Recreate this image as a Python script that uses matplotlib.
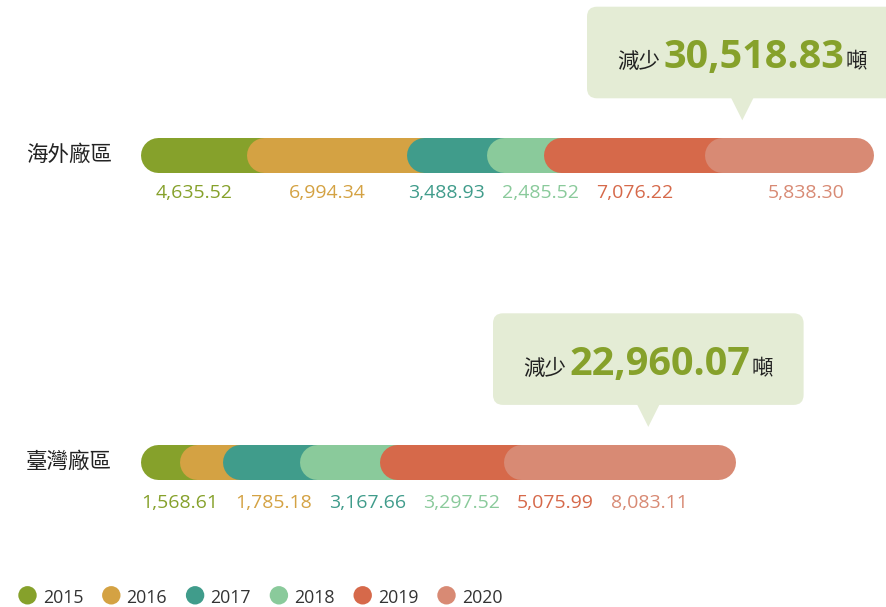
import matplotlib
matplotlib.use("Agg")
import matplotlib.pyplot as plt
from matplotlib.patches import FancyBboxPatch, Polygon, Circle
import numpy as np

# ---- data -------------------------------------------------------------
years = ["2015", "2016", "2017", "2018", "2019", "2020"]
sites = ["海外廠區", "臺灣廠區"]
overseas = [4635.52, 6994.34, 3488.93, 2485.52, 7076.22, 5838.30]
taiwan = [1568.61, 1785.18, 3167.66, 3297.52, 5075.99, 8083.11]
reduction_totals = [30518.83, 22960.07]

# ---- style ------------------------------------------------------------
colors = ["#86A12B", "#D4A243", "#409C8B", "#8ACA9B", "#D6694A", "#D88A74"]
BOX_COLOR = "#E4ECD5"
GREEN = "#86A12B"
DARK = "#222222"
LATIN = ["Open Sans", "Noto Sans CJK TC", "DejaVu Sans"]
CJK = ["Noto Sans CJK TC", "DejaVu Sans"]
plt.rcParams["font.family"] = LATIN

# ---- layout (pixels) --------------------------------------------------
W, H = 887, 607
BAR_H = 35.0
R = BAR_H / 2
BAR_LEFT = 141.0
bar_right = [873.3, 735.3]
row_y = [155.2, 461.5]
value_baseline = [198.5, 508.5]
site_x = 26.0
callout_tip_x = [742.3, 648.3]
callout_top = [6.7, 313.3]
CALLOUT_W, CALLOUT_H = 310.6, 91.6
LABEL_GAP = 17.0

fig = plt.figure(figsize=(W / 100, H / 100), dpi=100)
canvas = fig.add_axes([0, 0, 1, 1])
canvas.set_xlim(0, W)
canvas.set_ylim(H, 0)
canvas.axis("off")
renderer = fig.canvas.get_renderer()

series = [overseas, taiwan]
for i, vals in enumerate(series):
    total = float(np.sum(vals))
    x0 = BAR_LEFT + R
    x1 = bar_right[i] - R
    ax = fig.add_axes([x0 / W, 1 - (row_y[i] + 20) / H, (x1 - x0) / W, 40 / H])
    ax.set_xlim(0, total)
    ax.set_ylim(-1, 1)
    ax.axis("off")
    cum = np.concatenate([[0.0], np.cumsum(vals)])

    # stacked pill segments; each later year overlaps the previous one
    for k in range(len(vals)):
        ax.plot([cum[k], cum[k + 1]], [0, 0], color=colors[k],
                lw=BAR_H * 0.72, solid_capstyle="round",
                clip_on=False, zorder=2 + k)

    # value labels under the visible part of each segment, spread apart
    px = [ax.transData.transform((c, 0))[0] for c in cum]
    ideal = [(px[k] + px[k + 1]) / 2 - R for k in range(len(vals))]
    ideal[-1] += 2 * R
    texts = [canvas.text(0, value_baseline[i], f"{v:,.2f}", ha="center",
                         va="baseline", color=colors[k], fontsize=14)
             for k, v in enumerate(vals)]
    widths = [t.get_window_extent(renderer).width for t in texts]
    centers = []
    for k, c in enumerate(ideal):
        if k == 0:
            c = max(c, BAR_LEFT + widths[0] / 2)
        else:
            c = max(c, centers[-1] + (widths[k - 1] + widths[k]) / 2 + LABEL_GAP)
        centers.append(c)
    for t, c in zip(texts, centers):
        t.set_x(c)

    # site name
    canvas.text(site_x, row_y[i], sites[i], ha="left", va="center",
                fontsize=15.5, family=CJK, color=DARK)

    # callout bubble
    tx, top = callout_tip_x[i], callout_top[i]
    canvas.add_patch(FancyBboxPatch((tx - CALLOUT_W / 2, top), CALLOUT_W, CALLOUT_H,
                                    boxstyle="round,pad=0,rounding_size=10",
                                    fc=BOX_COLOR, ec="none"))
    bottom = top + CALLOUT_H
    canvas.add_patch(Polygon([(tx - 11.5, bottom - 1), (tx + 11.5, bottom - 1),
                              (tx, bottom + 22)], closed=True,
                             fc=BOX_COLOR, ec="none"))
    base = top + 61.6
    parts = [
        canvas.text(0, base, "減少", fontsize=15.5, family=CJK, color=DARK, va="baseline"),
        canvas.text(0, base, f"{reduction_totals[i]:,.2f}", fontsize=28.5,
                    fontweight="bold", color=GREEN, va="baseline"),
        canvas.text(0, base, "噸", fontsize=15.5, family=CJK, color=DARK, va="baseline"),
    ]
    pw = [p.get_window_extent(renderer).width for p in parts]
    gaps = [3.0, 1.5]
    x = tx - (sum(pw) + sum(gaps)) / 2
    for p, w, g in zip(parts, pw, gaps + [0]):
        p.set_x(x)
        x += w + g

# ---- legend -----------------------------------------------------------
for k, (yr, c) in enumerate(zip(years, colors)):
    cx = 27.5 + 83.8 * k
    canvas.add_patch(Circle((cx, 595.3), 9.2, fc=c, ec="none"))
    canvas.text(cx + 15.2, 603.3, yr, ha="left", va="baseline",
                fontsize=12.8, color="#333333")

fig.savefig("out.png", dpi=100)
